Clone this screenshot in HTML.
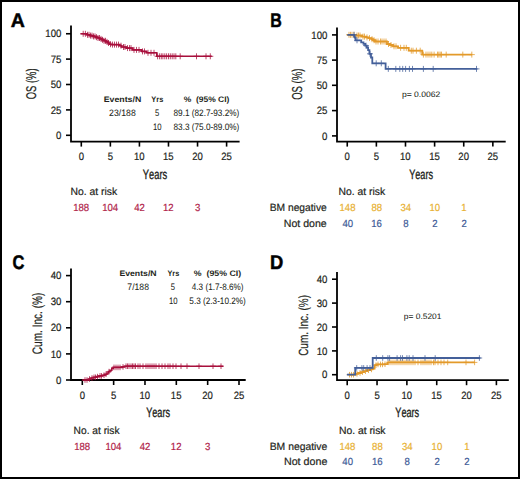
<!DOCTYPE html>
<html><head><meta charset="utf-8"><style>
html,body{margin:0;padding:0;background:#fff;}
body{width:520px;height:479px;overflow:hidden;position:relative;}
svg{position:absolute;left:0;top:0;}
text{font-family:"Liberation Sans",sans-serif;font-kerning:none;text-rendering:geometricPrecision;}
</style></head><body>
<svg width="520" height="479" viewBox="0 0 520 479">
<rect x="1" y="1" width="518" height="477" fill="#fff" stroke="#000" stroke-width="2"/>
<text transform="translate(10.86,26.60) scale(0.9862,1)" font-size="19.8" font-weight="bold" fill="#000" stroke="#000" stroke-width="0.5">A</text>
<text transform="translate(270.28,26.90) scale(0.8074,1)" font-size="19.8" font-weight="bold" fill="#000" stroke="#000" stroke-width="0.5">B</text>
<text transform="translate(12.47,268.90) scale(0.8343,1)" font-size="19.8" font-weight="bold" fill="#000" stroke="#000" stroke-width="0.5">C</text>
<text transform="translate(270.12,268.60) scale(0.9306,1)" font-size="19.8" font-weight="bold" fill="#000" stroke="#000" stroke-width="0.5">D</text>
<path d="M71,25.6 V141.6 H239.6" fill="none" stroke="#000" stroke-width="1.8" stroke-linejoin="miter" stroke-linecap="butt"/>
<line x1="66" y1="33.75" x2="71" y2="33.75" stroke="#000" stroke-width="1.6"/>
<text transform="translate(45.28,37.35) scale(0.9100,1)" font-size="10.6" stroke="#231f20" stroke-width="0.200" fill="#231f20">100</text>
<line x1="66" y1="59.1" x2="71" y2="59.1" stroke="#000" stroke-width="1.6"/>
<text transform="translate(50.68,62.70) scale(0.9100,1)" font-size="10.6" stroke="#231f20" stroke-width="0.200" fill="#231f20">75</text>
<line x1="66" y1="84.5" x2="71" y2="84.5" stroke="#000" stroke-width="1.6"/>
<text transform="translate(50.65,88.10) scale(0.9100,1)" font-size="10.6" stroke="#231f20" stroke-width="0.200" fill="#231f20">50</text>
<line x1="66" y1="109.9" x2="71" y2="109.9" stroke="#000" stroke-width="1.6"/>
<text transform="translate(50.68,113.50) scale(0.9100,1)" font-size="10.6" stroke="#231f20" stroke-width="0.200" fill="#231f20">25</text>
<line x1="66" y1="135.3" x2="71" y2="135.3" stroke="#000" stroke-width="1.6"/>
<text transform="translate(56.01,138.90) scale(0.9100,1)" font-size="10.6" stroke="#231f20" stroke-width="0.200" fill="#231f20">0</text>
<line x1="81.3" y1="141.6" x2="81.3" y2="146.6" stroke="#000" stroke-width="1.6"/>
<text transform="translate(78.65,159.60) scale(0.9000,1)" font-size="10.6" stroke="#231f20" stroke-width="0.200" fill="#231f20">0</text>
<line x1="110.36" y1="141.6" x2="110.36" y2="146.6" stroke="#000" stroke-width="1.6"/>
<text transform="translate(107.72,159.60) scale(0.9000,1)" font-size="10.6" stroke="#231f20" stroke-width="0.200" fill="#231f20">5</text>
<line x1="139.42" y1="141.6" x2="139.42" y2="146.6" stroke="#000" stroke-width="1.6"/>
<text transform="translate(133.94,159.60) scale(0.9000,1)" font-size="10.6" stroke="#231f20" stroke-width="0.200" fill="#231f20">10</text>
<line x1="168.48" y1="141.6" x2="168.48" y2="146.6" stroke="#000" stroke-width="1.6"/>
<text transform="translate(163.01,159.60) scale(0.9000,1)" font-size="10.6" stroke="#231f20" stroke-width="0.200" fill="#231f20">15</text>
<line x1="197.54" y1="141.6" x2="197.54" y2="146.6" stroke="#000" stroke-width="1.6"/>
<text transform="translate(192.18,159.60) scale(0.9000,1)" font-size="10.6" stroke="#231f20" stroke-width="0.200" fill="#231f20">20</text>
<line x1="226.59999999999997" y1="141.6" x2="226.59999999999997" y2="146.6" stroke="#000" stroke-width="1.6"/>
<text transform="translate(221.25,159.60) scale(0.9000,1)" font-size="10.6" stroke="#231f20" stroke-width="0.200" fill="#231f20">25</text>
<text transform="translate(36.25,99.25) rotate(-90) scale(0.6671,1)" font-size="14.10" fill="#231f20" stroke="#231f20" stroke-width="0.2">OS (%)</text>
<text transform="translate(142.85,178.80) scale(0.6902,1)" font-size="13.5" stroke="#231f20" stroke-width="0.35" fill="#231f20">Years</text>
<text transform="translate(103.76,102.40) scale(1.0947,1)" font-size="8" font-weight="bold" fill="#231f20">Events/N</text>
<text transform="translate(151.32,102.40) scale(0.9249,1)" font-size="8" font-weight="bold" fill="#231f20">Yrs</text>
<text transform="translate(183.64,102.40) scale(1.0606,1)" font-size="8" font-weight="bold" fill="#231f20">%  (95% CI)</text>
<text transform="translate(109.11,116.20) scale(0.9357,1)" font-size="9.3" stroke="#231f20" stroke-width="0.050" fill="#231f20">23/188</text>
<text transform="translate(154.90,116.20) scale(0.8165,1)" font-size="9.3" stroke="#231f20" stroke-width="0.050" fill="#231f20">5</text>
<text transform="translate(173.49,116.20) scale(0.8848,1)" font-size="9.3" stroke="#231f20" stroke-width="0.050" fill="#231f20">89.1 (82.7-93.2%)</text>
<text transform="translate(152.96,130.00) scale(0.8304,1)" font-size="9.3" stroke="#231f20" stroke-width="0.050" fill="#231f20">10</text>
<text transform="translate(173.49,130.00) scale(0.8848,1)" font-size="9.3" stroke="#231f20" stroke-width="0.050" fill="#231f20">83.3 (75.0-89.0%)</text>
<text transform="translate(70.50,195.40) scale(0.9868,1)" font-size="10.5" stroke="#231f20" stroke-width="0.200" fill="#231f20">No. at risk</text>
<text transform="translate(73.15,211.00) scale(0.9300,1)" font-size="10.3" stroke="#b01d48" stroke-width="0.200" fill="#b01d48">188</text>
<text transform="translate(102.14,211.00) scale(0.9300,1)" font-size="10.3" stroke="#b01d48" stroke-width="0.200" fill="#b01d48">104</text>
<text transform="translate(134.22,211.00) scale(0.9300,1)" font-size="10.3" stroke="#b01d48" stroke-width="0.200" fill="#b01d48">42</text>
<text transform="translate(163.03,211.00) scale(0.9300,1)" font-size="10.3" stroke="#b01d48" stroke-width="0.200" fill="#b01d48">12</text>
<text transform="translate(194.90,211.00) scale(0.9300,1)" font-size="10.3" stroke="#b01d48" stroke-width="0.200" fill="#b01d48">3</text>
<path d="M337,27.5 V141.6 H505.7" fill="none" stroke="#000" stroke-width="1.8" stroke-linejoin="miter" stroke-linecap="butt"/>
<line x1="332" y1="34.9" x2="337" y2="34.9" stroke="#000" stroke-width="1.6"/>
<text transform="translate(311.28,38.50) scale(0.9100,1)" font-size="10.6" stroke="#231f20" stroke-width="0.200" fill="#231f20">100</text>
<line x1="332" y1="60.1" x2="337" y2="60.1" stroke="#000" stroke-width="1.6"/>
<text transform="translate(316.68,63.70) scale(0.9100,1)" font-size="10.6" stroke="#231f20" stroke-width="0.200" fill="#231f20">75</text>
<line x1="332" y1="85.3" x2="337" y2="85.3" stroke="#000" stroke-width="1.6"/>
<text transform="translate(316.65,88.90) scale(0.9100,1)" font-size="10.6" stroke="#231f20" stroke-width="0.200" fill="#231f20">50</text>
<line x1="332" y1="110.6" x2="337" y2="110.6" stroke="#000" stroke-width="1.6"/>
<text transform="translate(316.68,114.20) scale(0.9100,1)" font-size="10.6" stroke="#231f20" stroke-width="0.200" fill="#231f20">25</text>
<line x1="332" y1="135.9" x2="337" y2="135.9" stroke="#000" stroke-width="1.6"/>
<text transform="translate(322.01,139.50) scale(0.9100,1)" font-size="10.6" stroke="#231f20" stroke-width="0.200" fill="#231f20">0</text>
<line x1="347.25" y1="141.6" x2="347.25" y2="146.6" stroke="#000" stroke-width="1.6"/>
<text transform="translate(344.60,159.60) scale(0.9000,1)" font-size="10.6" stroke="#231f20" stroke-width="0.200" fill="#231f20">0</text>
<line x1="376.37" y1="141.6" x2="376.37" y2="146.6" stroke="#000" stroke-width="1.6"/>
<text transform="translate(373.73,159.60) scale(0.9000,1)" font-size="10.6" stroke="#231f20" stroke-width="0.200" fill="#231f20">5</text>
<line x1="405.49" y1="141.6" x2="405.49" y2="146.6" stroke="#000" stroke-width="1.6"/>
<text transform="translate(400.01,159.60) scale(0.9000,1)" font-size="10.6" stroke="#231f20" stroke-width="0.200" fill="#231f20">10</text>
<line x1="434.61" y1="141.6" x2="434.61" y2="146.6" stroke="#000" stroke-width="1.6"/>
<text transform="translate(429.14,159.60) scale(0.9000,1)" font-size="10.6" stroke="#231f20" stroke-width="0.200" fill="#231f20">15</text>
<line x1="463.73" y1="141.6" x2="463.73" y2="146.6" stroke="#000" stroke-width="1.6"/>
<text transform="translate(458.37,159.60) scale(0.9000,1)" font-size="10.6" stroke="#231f20" stroke-width="0.200" fill="#231f20">20</text>
<line x1="492.85" y1="141.6" x2="492.85" y2="146.6" stroke="#000" stroke-width="1.6"/>
<text transform="translate(487.50,159.60) scale(0.9000,1)" font-size="10.6" stroke="#231f20" stroke-width="0.200" fill="#231f20">25</text>
<text transform="translate(302.40,99.85) rotate(-90) scale(0.6658,1)" font-size="14.32" fill="#231f20" stroke="#231f20" stroke-width="0.2">OS (%)</text>
<text transform="translate(409.15,178.75) scale(0.6757,1)" font-size="13.5" stroke="#231f20" stroke-width="0.35" fill="#231f20">Years</text>
<text transform="translate(401.90,96.70) scale(1.0854,1)" font-size="7.9" stroke="#231f20" stroke-width="0.050" fill="#231f20">p= 0.0062</text>
<text transform="translate(338.50,195.40) scale(0.9868,1)" font-size="10.5" stroke="#231f20" stroke-width="0.200" fill="#231f20">No. at risk</text>
<text transform="translate(269.71,211.20) scale(0.9766,1)" font-size="10.5" stroke="#231f20" stroke-width="0.200" fill="#231f20">BM negative</text>
<text transform="translate(283.78,226.70) scale(1.0076,1)" font-size="10.5" stroke="#231f20" stroke-width="0.200" fill="#231f20">Not done</text>
<text transform="translate(339.50,211.00) scale(0.9300,1)" font-size="10.3" stroke="#e8b030" stroke-width="0.200" fill="#e8b030">148</text>
<text transform="translate(342.40,226.50) scale(0.9300,1)" font-size="10.3" stroke="#3c5a96" stroke-width="0.200" fill="#3c5a96">40</text>
<text transform="translate(371.44,211.00) scale(0.9300,1)" font-size="10.3" stroke="#e8b030" stroke-width="0.200" fill="#e8b030">88</text>
<text transform="translate(371.29,226.50) scale(0.9300,1)" font-size="10.3" stroke="#3c5a96" stroke-width="0.200" fill="#3c5a96">16</text>
<text transform="translate(400.52,211.00) scale(0.9300,1)" font-size="10.3" stroke="#e8b030" stroke-width="0.200" fill="#e8b030">34</text>
<text transform="translate(403.23,226.50) scale(0.9300,1)" font-size="10.3" stroke="#3c5a96" stroke-width="0.200" fill="#3c5a96">8</text>
<text transform="translate(429.50,211.00) scale(0.9300,1)" font-size="10.3" stroke="#e8b030" stroke-width="0.200" fill="#e8b030">10</text>
<text transform="translate(432.35,226.50) scale(0.9300,1)" font-size="10.3" stroke="#3c5a96" stroke-width="0.200" fill="#3c5a96">2</text>
<text transform="translate(461.34,211.00) scale(0.9300,1)" font-size="10.3" stroke="#e8b030" stroke-width="0.200" fill="#e8b030">1</text>
<text transform="translate(461.47,226.50) scale(0.9300,1)" font-size="10.3" stroke="#3c5a96" stroke-width="0.200" fill="#3c5a96">2</text>
<path d="M71,268.5 V380.0 H245.7" fill="none" stroke="#000" stroke-width="1.8" stroke-linejoin="miter" stroke-linecap="butt"/>
<line x1="66" y1="275.6" x2="71" y2="275.6" stroke="#000" stroke-width="1.6"/>
<text transform="translate(50.65,279.20) scale(0.9100,1)" font-size="10.6" stroke="#231f20" stroke-width="0.200" fill="#231f20">40</text>
<line x1="66" y1="301.7" x2="71" y2="301.7" stroke="#000" stroke-width="1.6"/>
<text transform="translate(50.65,305.30) scale(0.9100,1)" font-size="10.6" stroke="#231f20" stroke-width="0.200" fill="#231f20">30</text>
<line x1="66" y1="327.8" x2="71" y2="327.8" stroke="#000" stroke-width="1.6"/>
<text transform="translate(50.65,331.40) scale(0.9100,1)" font-size="10.6" stroke="#231f20" stroke-width="0.200" fill="#231f20">20</text>
<line x1="66" y1="353.9" x2="71" y2="353.9" stroke="#000" stroke-width="1.6"/>
<text transform="translate(50.65,357.50) scale(0.9100,1)" font-size="10.6" stroke="#231f20" stroke-width="0.200" fill="#231f20">10</text>
<line x1="66" y1="380.0" x2="71" y2="380.0" stroke="#000" stroke-width="1.6"/>
<text transform="translate(56.01,383.60) scale(0.9100,1)" font-size="10.6" stroke="#231f20" stroke-width="0.200" fill="#231f20">0</text>
<line x1="82.3" y1="380.0" x2="82.3" y2="385.0" stroke="#000" stroke-width="1.6"/>
<text transform="translate(79.65,398.80) scale(0.9000,1)" font-size="10.6" stroke="#231f20" stroke-width="0.200" fill="#231f20">0</text>
<line x1="113.64" y1="380.0" x2="113.64" y2="385.0" stroke="#000" stroke-width="1.6"/>
<text transform="translate(111.00,398.80) scale(0.9000,1)" font-size="10.6" stroke="#231f20" stroke-width="0.200" fill="#231f20">5</text>
<line x1="144.98" y1="380.0" x2="144.98" y2="385.0" stroke="#000" stroke-width="1.6"/>
<text transform="translate(139.50,398.80) scale(0.9000,1)" font-size="10.6" stroke="#231f20" stroke-width="0.200" fill="#231f20">10</text>
<line x1="176.32" y1="380.0" x2="176.32" y2="385.0" stroke="#000" stroke-width="1.6"/>
<text transform="translate(170.85,398.80) scale(0.9000,1)" font-size="10.6" stroke="#231f20" stroke-width="0.200" fill="#231f20">15</text>
<line x1="207.66" y1="380.0" x2="207.66" y2="385.0" stroke="#000" stroke-width="1.6"/>
<text transform="translate(202.30,398.80) scale(0.9000,1)" font-size="10.6" stroke="#231f20" stroke-width="0.200" fill="#231f20">20</text>
<line x1="239.0" y1="380.0" x2="239.0" y2="385.0" stroke="#000" stroke-width="1.6"/>
<text transform="translate(233.65,398.80) scale(0.9000,1)" font-size="10.6" stroke="#231f20" stroke-width="0.200" fill="#231f20">25</text>
<text transform="translate(41.90,354.21) rotate(-90) scale(0.7369,1)" font-size="13.66" fill="#231f20" stroke="#231f20" stroke-width="0.2">Cum. Inc. (%)</text>
<text transform="translate(146.15,417.30) scale(0.6786,1)" font-size="13.5" stroke="#231f20" stroke-width="0.35" fill="#231f20">Years</text>
<text transform="translate(119.42,275.70) scale(1.0856,1)" font-size="8" font-weight="bold" fill="#231f20">Events/N</text>
<text transform="translate(167.47,275.70) scale(0.9169,1)" font-size="8" font-weight="bold" fill="#231f20">Yrs</text>
<text transform="translate(193.83,275.70) scale(1.0959,1)" font-size="8" font-weight="bold" fill="#231f20">%  (95% CI)</text>
<text transform="translate(127.36,289.60) scale(0.9289,1)" font-size="9.3" stroke="#231f20" stroke-width="0.050" fill="#231f20">7/188</text>
<text transform="translate(170.80,289.60) scale(0.8165,1)" font-size="9.3" stroke="#231f20" stroke-width="0.050" fill="#231f20">5</text>
<text transform="translate(191.81,289.60) scale(0.8772,1)" font-size="9.3" stroke="#231f20" stroke-width="0.050" fill="#231f20">4.3 (1.7-8.6%)</text>
<text transform="translate(168.96,303.90) scale(0.8304,1)" font-size="9.3" stroke="#231f20" stroke-width="0.050" fill="#231f20">10</text>
<text transform="translate(189.37,303.90) scale(0.8804,1)" font-size="9.3" stroke="#231f20" stroke-width="0.050" fill="#231f20">5.3 (2.3-10.2%)</text>
<text transform="translate(73.61,433.90) scale(0.9717,1)" font-size="10.5" stroke="#231f20" stroke-width="0.200" fill="#231f20">No. at risk</text>
<text transform="translate(74.15,449.60) scale(0.9300,1)" font-size="10.3" stroke="#b01d48" stroke-width="0.200" fill="#b01d48">188</text>
<text transform="translate(105.42,449.60) scale(0.9300,1)" font-size="10.3" stroke="#b01d48" stroke-width="0.200" fill="#b01d48">104</text>
<text transform="translate(139.78,449.60) scale(0.9300,1)" font-size="10.3" stroke="#b01d48" stroke-width="0.200" fill="#b01d48">42</text>
<text transform="translate(170.87,449.60) scale(0.9300,1)" font-size="10.3" stroke="#b01d48" stroke-width="0.200" fill="#b01d48">12</text>
<text transform="translate(205.02,449.60) scale(0.9300,1)" font-size="10.3" stroke="#b01d48" stroke-width="0.200" fill="#b01d48">3</text>
<path d="M337,272.1 V380.2 H508.8" fill="none" stroke="#000" stroke-width="1.8" stroke-linejoin="miter" stroke-linecap="butt"/>
<line x1="332" y1="279.2" x2="337" y2="279.2" stroke="#000" stroke-width="1.6"/>
<text transform="translate(316.65,282.80) scale(0.9100,1)" font-size="10.6" stroke="#231f20" stroke-width="0.200" fill="#231f20">40</text>
<line x1="332" y1="303.1" x2="337" y2="303.1" stroke="#000" stroke-width="1.6"/>
<text transform="translate(316.65,306.70) scale(0.9100,1)" font-size="10.6" stroke="#231f20" stroke-width="0.200" fill="#231f20">30</text>
<line x1="332" y1="327.0" x2="337" y2="327.0" stroke="#000" stroke-width="1.6"/>
<text transform="translate(316.65,330.60) scale(0.9100,1)" font-size="10.6" stroke="#231f20" stroke-width="0.200" fill="#231f20">20</text>
<line x1="332" y1="350.9" x2="337" y2="350.9" stroke="#000" stroke-width="1.6"/>
<text transform="translate(316.65,354.50) scale(0.9100,1)" font-size="10.6" stroke="#231f20" stroke-width="0.200" fill="#231f20">10</text>
<line x1="332" y1="374.7" x2="337" y2="374.7" stroke="#000" stroke-width="1.6"/>
<text transform="translate(322.01,378.30) scale(0.9100,1)" font-size="10.6" stroke="#231f20" stroke-width="0.200" fill="#231f20">0</text>
<line x1="347.2" y1="380.2" x2="347.2" y2="385.2" stroke="#000" stroke-width="1.6"/>
<text transform="translate(344.55,398.70) scale(0.9000,1)" font-size="10.6" stroke="#231f20" stroke-width="0.200" fill="#231f20">0</text>
<line x1="377.03999999999996" y1="380.2" x2="377.03999999999996" y2="385.2" stroke="#000" stroke-width="1.6"/>
<text transform="translate(374.40,398.70) scale(0.9000,1)" font-size="10.6" stroke="#231f20" stroke-width="0.200" fill="#231f20">5</text>
<line x1="406.88" y1="380.2" x2="406.88" y2="385.2" stroke="#000" stroke-width="1.6"/>
<text transform="translate(401.40,398.70) scale(0.9000,1)" font-size="10.6" stroke="#231f20" stroke-width="0.200" fill="#231f20">10</text>
<line x1="436.71999999999997" y1="380.2" x2="436.71999999999997" y2="385.2" stroke="#000" stroke-width="1.6"/>
<text transform="translate(431.25,398.70) scale(0.9000,1)" font-size="10.6" stroke="#231f20" stroke-width="0.200" fill="#231f20">15</text>
<line x1="466.56" y1="380.2" x2="466.56" y2="385.2" stroke="#000" stroke-width="1.6"/>
<text transform="translate(461.20,398.70) scale(0.9000,1)" font-size="10.6" stroke="#231f20" stroke-width="0.200" fill="#231f20">20</text>
<line x1="496.4" y1="380.2" x2="496.4" y2="385.2" stroke="#000" stroke-width="1.6"/>
<text transform="translate(491.05,398.70) scale(0.9000,1)" font-size="10.6" stroke="#231f20" stroke-width="0.200" fill="#231f20">25</text>
<text transform="translate(307.90,355.81) rotate(-90) scale(0.7524,1)" font-size="13.23" fill="#231f20" stroke="#231f20" stroke-width="0.2">Cum. Inc. (%)</text>
<text transform="translate(395.35,417.20) scale(0.6757,1)" font-size="13.5" stroke="#231f20" stroke-width="0.35" fill="#231f20">Years</text>
<text transform="translate(403.81,319.20) scale(1.0647,1)" font-size="7.9" stroke="#231f20" stroke-width="0.050" fill="#231f20">p= 0.5201</text>
<text transform="translate(338.90,434.30) scale(0.9868,1)" font-size="10.5" stroke="#231f20" stroke-width="0.200" fill="#231f20">No. at risk</text>
<text transform="translate(269.70,450.00) scale(0.9871,1)" font-size="10.5" stroke="#231f20" stroke-width="0.200" fill="#231f20">BM negative</text>
<text transform="translate(283.97,465.30) scale(1.0173,1)" font-size="10.5" stroke="#231f20" stroke-width="0.200" fill="#231f20">Not done</text>
<text transform="translate(339.45,449.80) scale(0.9300,1)" font-size="10.3" stroke="#e8b030" stroke-width="0.200" fill="#e8b030">148</text>
<text transform="translate(342.35,465.20) scale(0.9300,1)" font-size="10.3" stroke="#3c5a96" stroke-width="0.200" fill="#3c5a96">40</text>
<text transform="translate(372.11,449.80) scale(0.9300,1)" font-size="10.3" stroke="#e8b030" stroke-width="0.200" fill="#e8b030">88</text>
<text transform="translate(371.96,465.20) scale(0.9300,1)" font-size="10.3" stroke="#3c5a96" stroke-width="0.200" fill="#3c5a96">16</text>
<text transform="translate(401.91,449.80) scale(0.9300,1)" font-size="10.3" stroke="#e8b030" stroke-width="0.200" fill="#e8b030">34</text>
<text transform="translate(404.62,465.20) scale(0.9300,1)" font-size="10.3" stroke="#3c5a96" stroke-width="0.200" fill="#3c5a96">8</text>
<text transform="translate(431.61,449.80) scale(0.9300,1)" font-size="10.3" stroke="#e8b030" stroke-width="0.200" fill="#e8b030">10</text>
<text transform="translate(434.46,465.20) scale(0.9300,1)" font-size="10.3" stroke="#3c5a96" stroke-width="0.200" fill="#3c5a96">2</text>
<text transform="translate(464.17,449.80) scale(0.9300,1)" font-size="10.3" stroke="#e8b030" stroke-width="0.200" fill="#e8b030">1</text>
<text transform="translate(464.30,465.20) scale(0.9300,1)" font-size="10.3" stroke="#3c5a96" stroke-width="0.200" fill="#3c5a96">2</text>
<path d="M80.6,33.8 H87 V34.8 H90 V35.6 H93 V36.4 H95.5 V37.2 H98 V38.0 H100 V38.9 H102 V39.8 H104 V40.8 H106 V41.9 H108 V43.0 H109.5 V44.2 H111 V44.6 H119.6 V45.7 H121.5 V47.0 H126.3 V48.1 H132.6 V49.9 H141.7 V51.4 H146.5 V52.8 H156.8 V56.3 H211.8 V56.3" fill="none" stroke="#a8103c" stroke-width="1.6"/>
<path d="M83.2,30.8V36.8M80.2,33.8H86.2M85.4,30.8V36.8M82.4,33.8H88.4M87.5,31.8V37.8M84.5,34.8H90.5M89.0,31.8V37.8M86.0,34.8H92.0M90.5,32.6V38.6M87.5,35.6H93.5M92.0,32.6V38.6M89.0,35.6H95.0M93.5,33.4V39.4M90.5,36.4H96.5M95.0,33.4V39.4M92.0,36.4H98.0M96.5,34.2V40.2M93.5,37.2H99.5M98.0,35.0V41.0M95.0,38.0H101.0M99.5,35.0V41.0M96.5,38.0H102.5M101.0,35.9V41.9M98.0,38.9H104.0M102.5,36.8V42.8M99.5,39.8H105.5M104.0,37.8V43.8M101.0,40.8H107.0M105.5,37.8V43.8M102.5,40.8H108.5M107.0,38.9V44.9M104.0,41.9H110.0M108.5,40.0V46.0M105.5,43.0H111.5M110.5,41.2V47.2M107.5,44.2H113.5M112.5,41.6V47.6M109.5,44.6H115.5M114.5,41.6V47.6M111.5,44.6H117.5M116.5,41.6V47.6M113.5,44.6H119.5M118.5,41.6V47.6M115.5,44.6H121.5M121.0,42.7V48.7M118.0,45.7H124.0M123.5,44.0V50.0M120.5,47.0H126.5M125.0,44.0V50.0M122.0,47.0H128.0M127.5,45.1V51.1M124.5,48.1H130.5M129.5,45.1V51.1M126.5,48.1H132.5M131.0,45.1V51.1M128.0,48.1H134.0M134.0,46.9V52.9M131.0,49.9H137.0M136.5,46.9V52.9M133.5,49.9H139.5M139.0,46.9V52.9M136.0,49.9H142.0M142.5,48.4V54.4M139.5,51.4H145.5M144.5,48.4V54.4M141.5,51.4H147.5M148.0,49.8V55.8M145.0,52.8H151.0M151.0,49.8V55.8M148.0,52.8H154.0M154.0,49.8V55.8M151.0,52.8H157.0M157.6,53.3V59.3M154.6,56.3H160.6M159.6,53.3V59.3M156.6,56.3H162.6M161.3,53.3V59.3M158.3,56.3H164.3M162.9,53.3V59.3M159.9,56.3H165.9M164.8,53.3V59.3M161.8,56.3H167.8M166.6,53.3V59.3M163.6,56.3H169.6M168.5,53.3V59.3M165.5,56.3H171.5M170.3,53.3V59.3M167.3,56.3H173.3M172.2,53.3V59.3M169.2,56.3H175.2M174.0,53.3V59.3M171.0,56.3H177.0M175.8,53.3V59.3M172.8,56.3H178.8M180.2,53.3V59.3M177.2,56.3H183.2M196.5,53.3V59.3M193.5,56.3H199.5M206.0,53.3V59.3M203.0,56.3H209.0M210.3,53.3V59.3M207.3,56.3H213.3" fill="none" stroke="#a8103c" stroke-width="0.9" opacity="0.85"/>
<path d="M347.3,34.8 H356 V35.5 H362 V36.6 H366 V37.4 H368.5 V38.1 H371.5 V39.2 H373 V40.2 H375 V41.5 H387 V44.0 H390 V45.0 H393 V46.3 H398 V47.8 H408.7 V50.7 H422.2 V54.6 H472.2 V54.6" fill="none" stroke="#e39a2a" stroke-width="1.8"/>
<path d="M349.0,31.8V37.8M346.0,34.8H352.0M350.5,31.8V37.8M347.5,34.8H353.5M352.0,31.8V37.8M349.0,34.8H355.0M354.0,31.8V37.8M351.0,34.8H357.0M357.0,32.5V38.5M354.0,35.5H360.0M358.5,32.5V38.5M355.5,35.5H361.5M360.0,32.5V38.5M357.0,35.5H363.0M363.0,33.6V39.6M360.0,36.6H366.0M364.5,33.6V39.6M361.5,36.6H367.5M367.0,34.4V40.4M364.0,37.4H370.0M369.5,35.1V41.1M366.5,38.1H372.5M372.0,36.2V42.2M369.0,39.2H375.0M374.0,37.2V43.2M371.0,40.2H377.0M376.0,38.5V44.5M373.0,41.5H379.0M378.0,38.5V44.5M375.0,41.5H381.0M380.5,38.5V44.5M377.5,41.5H383.5M382.0,38.5V44.5M379.0,41.5H385.0M384.0,38.5V44.5M381.0,41.5H387.0M386.0,38.5V44.5M383.0,41.5H389.0M388.5,41.0V47.0M385.5,44.0H391.5M391.0,42.0V48.0M388.0,45.0H394.0M394.0,43.3V49.3M391.0,46.3H397.0M396.0,43.3V49.3M393.0,46.3H399.0M400.6,44.8V50.8M397.6,47.8H403.6M404.0,44.8V50.8M401.0,47.8H407.0M406.3,44.8V50.8M403.3,47.8H409.3M411.3,47.7V53.7M408.3,50.7H414.3M413.0,47.7V53.7M410.0,50.7H416.0M416.4,47.7V53.7M413.4,50.7H419.4M420.2,47.7V53.7M417.2,50.7H423.2M423.4,51.6V57.6M420.4,54.6H426.4M426.0,51.6V57.6M423.0,54.6H429.0M428.0,51.6V57.6M425.0,54.6H431.0M430.0,51.6V57.6M427.0,54.6H433.0M431.8,51.6V57.6M428.8,54.6H434.8M434.1,51.6V57.6M431.1,54.6H437.1M437.5,51.6V57.6M434.5,54.6H440.5M438.8,51.6V57.6M435.8,54.6H441.8M440.2,51.6V57.6M437.2,54.6H443.2M441.5,51.6V57.6M438.5,54.6H444.5M446.2,51.6V57.6M443.2,54.6H449.2M462.8,51.6V57.6M459.8,54.6H465.8M471.8,51.6V57.6M468.8,54.6H474.8" fill="none" stroke="#e39a2a" stroke-width="0.9" opacity="0.85"/>
<path d="M347.3,34.8 H354.2 V36.3 H354.8 V37.6 H355.5 V40.3 H361.2 V42.4 H363.5 V43.9 H365.2 V45.6 H366.8 V47.5 H368.1 V50.2 H369.4 V53.8 H371 V57.5 H372.3 V63.3 H385.6 V68.9 H477.4 V68.9" fill="none" stroke="#44609a" stroke-width="1.8"/>
<path d="M354.0,31.8V37.8M351.0,34.8H357.0M357.0,37.3V43.3M354.0,40.3H360.0M366.0,42.6V48.6M363.0,45.6H369.0M370.0,50.8V56.8M367.0,53.8H373.0M376.2,60.3V66.3M373.2,63.3H379.2M381.3,60.3V66.3M378.3,63.3H384.3M388.3,65.9V71.9M385.3,68.9H391.3M395.8,65.9V71.9M392.8,68.9H398.8M399.8,65.9V71.9M396.8,68.9H402.8M402.7,65.9V71.9M399.7,68.9H405.7M405.6,65.9V71.9M402.6,68.9H408.6M409.4,65.9V71.9M406.4,68.9H412.4M412.5,65.9V71.9M409.5,68.9H415.5M423.4,65.9V71.9M420.4,68.9H426.4M433.2,65.9V71.9M430.2,68.9H436.2M476.5,65.9V71.9M473.5,68.9H479.5" fill="none" stroke="#44609a" stroke-width="0.9" opacity="0.85"/>
<path d="M82.3,380 H88.7 V379.0 H91 V378.0 H93.5 V377.3 H96.2 V376.6 H99 V375.9 H102.5 V375.2 H105 V374.2 H107 V373.0 H108.5 V371.6 H110 V370.3 H111.8 V368.5 H113.2 V367.4 H122 V366.9 H124.5 V366.2 H223.3 V366.2" fill="none" stroke="#a8103c" stroke-width="1.6"/>
<path d="M85.0,377.2V382.8M82.2,380.0H87.8M87.0,377.2V382.8M84.2,380.0H89.8M89.5,376.2V381.8M86.7,379.0H92.3M92.0,375.2V380.8M89.2,378.0H94.8M94.0,374.5V380.1M91.2,377.3H96.8M95.5,374.5V380.1M92.7,377.3H98.3M97.5,373.8V379.4M94.7,376.6H100.3M100.0,373.1V378.7M97.2,375.9H102.8M101.5,373.1V378.7M98.7,375.9H104.3M104.0,372.4V378.0M101.2,375.2H106.8M106.0,371.4V377.0M103.2,374.2H108.8M109.0,368.8V374.4M106.2,371.6H111.8M114.0,364.6V370.2M111.2,367.4H116.8M116.0,364.6V370.2M113.2,367.4H118.8M118.0,364.6V370.2M115.2,367.4H120.8M120.0,364.6V370.2M117.2,367.4H122.8M123.0,364.1V369.7M120.2,366.9H125.8M126.0,363.4V369.0M123.2,366.2H128.8M127.5,363.4V369.0M124.7,366.2H130.3M129.0,363.4V369.0M126.2,366.2H131.8M131.0,363.4V369.0M128.2,366.2H133.8M132.5,363.4V369.0M129.7,366.2H135.3M134.0,363.4V369.0M131.2,366.2H136.8M135.5,363.4V369.0M132.7,366.2H138.3M138.0,363.4V369.0M135.2,366.2H140.8M140.0,363.4V369.0M137.2,366.2H142.8M143.0,363.4V369.0M140.2,366.2H145.8M146.0,363.4V369.0M143.2,366.2H148.8M148.0,363.4V369.0M145.2,366.2H150.8M150.0,363.4V369.0M147.2,366.2H152.8M152.0,363.4V369.0M149.2,366.2H154.8M154.0,363.4V369.0M151.2,366.2H156.8M156.0,363.4V369.0M153.2,366.2H158.8M159.0,363.4V369.0M156.2,366.2H161.8M162.0,363.4V369.0M159.2,366.2H164.8M165.0,363.4V369.0M162.2,366.2H167.8M168.0,363.4V369.0M165.2,366.2H170.8M170.0,363.4V369.0M167.2,366.2H172.8M173.0,363.4V369.0M170.2,366.2H175.8M176.0,363.4V369.0M173.2,366.2H178.8M181.0,363.4V369.0M178.2,366.2H183.8M187.0,363.4V369.0M184.2,366.2H189.8M199.0,363.4V369.0M196.2,366.2H201.8M213.0,363.4V369.0M210.2,366.2H215.8M221.0,363.4V369.0M218.2,366.2H223.8" fill="none" stroke="#a8103c" stroke-width="0.9" opacity="0.85"/>
<path d="M348.5,374.7 H355.6 V373.8 H358 V373.0 H361 V372.1 H364 V371.2 H367 V370.2 H370 V369.4 H372.5 V368.5 H374.6 V365.2 H376.5 V364.4 H384.6 V364.2 H387.7 V362.4 H474.6 V362.4" fill="none" stroke="#e39a2a" stroke-width="1.8"/>
<path d="M349.5,371.9V377.5M346.7,374.7H352.3M351.5,371.9V377.5M348.7,374.7H354.3M353.5,371.9V377.5M350.7,374.7H356.3M357.0,371.0V376.6M354.2,373.8H359.8M360.0,370.2V375.8M357.2,373.0H362.8M362.5,369.3V374.9M359.7,372.1H365.3M365.5,368.4V374.0M362.7,371.2H368.3M368.5,367.4V373.0M365.7,370.2H371.3M371.5,366.6V372.2M368.7,369.4H374.3M376.0,362.4V368.0M373.2,365.2H378.8M378.0,361.6V367.2M375.2,364.4H380.8M380.5,361.6V367.2M377.7,364.4H383.3M382.5,361.6V367.2M379.7,364.4H385.3M385.0,361.4V367.0M382.2,364.2H387.8M389.0,359.6V365.2M386.2,362.4H391.8M391.0,359.6V365.2M388.2,362.4H393.8M393.0,359.6V365.2M390.2,362.4H395.8M395.0,359.6V365.2M392.2,362.4H397.8M397.0,359.6V365.2M394.2,362.4H399.8M399.0,359.6V365.2M396.2,362.4H401.8M401.0,359.6V365.2M398.2,362.4H403.8M403.0,359.6V365.2M400.2,362.4H405.8M405.0,359.6V365.2M402.2,362.4H407.8M407.0,359.6V365.2M404.2,362.4H409.8M409.0,359.6V365.2M406.2,362.4H411.8M411.0,359.6V365.2M408.2,362.4H413.8M413.0,359.6V365.2M410.2,362.4H415.8M415.0,359.6V365.2M412.2,362.4H417.8M418.0,359.6V365.2M415.2,362.4H420.8M421.0,359.6V365.2M418.2,362.4H423.8M423.0,359.6V365.2M420.2,362.4H425.8M425.0,359.6V365.2M422.2,362.4H427.8M427.0,359.6V365.2M424.2,362.4H429.8M429.0,359.6V365.2M426.2,362.4H431.8M431.0,359.6V365.2M428.2,362.4H433.8M433.5,359.6V365.2M430.7,362.4H436.3M435.0,359.6V365.2M432.2,362.4H437.8M438.0,359.6V365.2M435.2,362.4H440.8M441.0,359.6V365.2M438.2,362.4H443.8M444.0,359.6V365.2M441.2,362.4H446.8M447.7,359.6V365.2M444.9,362.4H450.5M466.0,359.6V365.2M463.2,362.4H468.8M474.6,359.6V365.2M471.8,362.4H477.4" fill="none" stroke="#e39a2a" stroke-width="0.9" opacity="0.85"/>
<path d="M346.9,374.7 H355.2 V367.9 H372.7 V358.0 H480.4 V358.0" fill="none" stroke="#44609a" stroke-width="1.8"/>
<path d="M356.7,365.1V370.7M353.9,367.9H359.5M361.9,365.1V370.7M359.1,367.9H364.7M363.7,365.1V370.7M360.9,367.9H366.5M367.1,365.1V370.7M364.3,367.9H369.9M370.0,365.1V370.7M367.2,367.9H372.8M376.3,355.2V360.8M373.5,358.0H379.1M382.7,355.2V360.8M379.9,358.0H385.5M387.9,355.2V360.8M385.1,358.0H390.7M389.6,355.2V360.8M386.8,358.0H392.4M397.1,355.2V360.8M394.3,358.0H399.9M400.6,355.2V360.8M397.8,358.0H403.4M402.5,355.2V360.8M399.7,358.0H405.3M406.9,355.2V360.8M404.1,358.0H409.7M409.2,355.2V360.8M406.4,358.0H412.0M413.0,355.2V360.8M410.2,358.0H415.8M425.0,355.2V360.8M422.2,358.0H427.8M435.2,355.2V360.8M432.4,358.0H438.0M479.4,355.2V360.8M476.6,358.0H482.2" fill="none" stroke="#44609a" stroke-width="0.9" opacity="0.85"/>
</svg>
</body></html>
